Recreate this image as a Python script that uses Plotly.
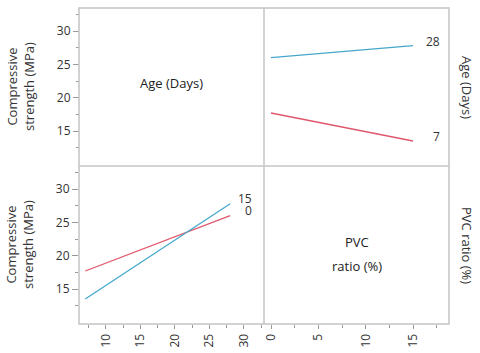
import plotly.graph_objects as go

# ---- data ----
age_days = [7, 28]
pvc_ratio = [0, 15]
# mean compressive strength (MPa) at [age 7, age 28] for each PVC ratio
strength_pvc0 = [17.7, 26.0]
strength_pvc15 = [13.5, 27.8]
# mean compressive strength (MPa) at [PVC 0, PVC 15] for each age
strength_age7 = [17.7, 13.5]
strength_age28 = [26.0, 27.8]

y_ticks = [15, 20, 25, 30]
y_minor = [12.5, 17.5, 22.5, 27.5, 32.5]
age_ticks = [10, 15, 20, 25, 30]
age_minor = [7.5, 12.5, 17.5, 22.5, 27.5, 32.5]
pvc_ticks = [0, 5, 10, 15]
pvc_minor = [2.5, 7.5, 12.5, 17.5]

BLUE = "#45A8CB"
RED = "#E0576C"
GRID = "#C4C4C4"
TXT = "#333333"
FONT = "Open Sans"

W, H = 480, 353
X0, XM, X1 = 79 / W, 264 / W, 449 / W
YT, YM, YB = 1 - 8 / H, 1 - 166 / H, 1 - 324 / H

fig = go.Figure()

# bottom-left: strength vs age, one line per PVC ratio
fig.add_trace(go.Scatter(x=age_days, y=strength_pvc0, mode="lines",
                         line=dict(color=RED, width=1.3), xaxis="x", yaxis="y"))
fig.add_trace(go.Scatter(x=age_days, y=strength_pvc15, mode="lines",
                         line=dict(color=BLUE, width=1.3), xaxis="x", yaxis="y"))
# top-right: strength vs PVC ratio, one line per age
fig.add_trace(go.Scatter(x=pvc_ratio, y=strength_age7, mode="lines",
                         line=dict(color=RED, width=1.3), xaxis="x3", yaxis="y3"))
fig.add_trace(go.Scatter(x=pvc_ratio, y=strength_age28, mode="lines",
                         line=dict(color=BLUE, width=1.3), xaxis="x3", yaxis="y3"))
# bottom-right panel (PVC axis only, no marks)
fig.add_trace(go.Scatter(x=pvc_ratio, y=[None, None], mode="lines",
                         hoverinfo="skip", xaxis="x2", yaxis="y2"))

yrange = [9.75, 33.45]
tickfont = dict(family=FONT, size=12, color=TXT)

common_y = dict(range=yrange, showgrid=False, zeroline=False, showline=False,
                automargin=False,
                tickvals=y_ticks, ticks="outside", ticklen=6, tickwidth=1,
                tickcolor="#999999", tickfont=tickfont,
                minor=dict(tickvals=y_minor, ticks="outside", ticklen=3,
                           tickcolor="#999999"))

fig.update_layout(
    width=W, height=H,
    margin=dict(l=0, r=0, t=0, b=0, autoexpand=False),
    paper_bgcolor="white", plot_bgcolor="white",
    showlegend=False,
    font=dict(family=FONT, size=12, color=TXT),
    xaxis=dict(domain=[X0, XM], anchor="y", range=[6.1, 32.9], showgrid=False,
               automargin=False,
               zeroline=False, showline=False, tickvals=age_ticks, ticks="outside",
               ticklen=4, tickcolor="#999999", tickangle=-90, tickfont=tickfont,
               minor=dict(tickvals=age_minor, ticks="outside", ticklen=3,
                          tickcolor="#999999")),
    yaxis=dict(domain=[YB, YM], anchor="x", **common_y),
    xaxis2=dict(domain=[XM, X1], anchor="y2", range=[-0.74, 18.8], showgrid=False,
                automargin=False,
                zeroline=False, showline=False, tickvals=pvc_ticks, ticks="outside",
                ticklen=4, tickcolor="#999999", tickangle=-90, tickfont=tickfont,
                minor=dict(tickvals=pvc_minor, ticks="outside", ticklen=3,
                           tickcolor="#999999")),
    yaxis2=dict(domain=[YB, YM], anchor="x2", range=yrange, visible=False,
                automargin=False),
    xaxis3=dict(domain=[XM, X1], anchor="y3", range=[-0.74, 18.8], visible=False,
                automargin=False),
    yaxis3=dict(domain=[YM, YT], anchor="free", position=X0, **common_y),
)

# panel frame lines
line_style = dict(color=GRID, width=1.5)
fig.add_shape(type="rect", xref="paper", yref="paper", x0=X0, x1=X1, y0=YB, y1=YT,
              line=line_style, layer="above")
fig.add_shape(type="line", xref="paper", yref="paper", x0=XM, x1=XM, y0=YB, y1=YT,
              line=line_style, layer="above")
fig.add_shape(type="line", xref="paper", yref="paper", x0=X0, x1=X1, y0=YM, y1=YM,
              line=line_style, layer="above")

def note(x, y, text, angle=0, size=13, color=TXT):
    fig.add_annotation(xref="paper", yref="paper", x=x, y=y, text=text,
                       textangle=angle, showarrow=False,
                       xanchor="center", yanchor="middle",
                       font=dict(family=FONT, size=size, color=color))

# y-axis titles (one per row)
for yc in [(YM + YT) / 2, (YB + YM) / 2]:
    note(20 / W, yc, "Compressive<br>strength (MPa)", angle=-90)

# diagonal panel labels
note((X0 + XM) / 2, 1 - 83 / H, "Age (Days)", color="#222222")
note((XM + X1) / 2, 1 - 242 / H, "PVC", color="#222222")
note((XM + X1) / 2, 1 - 266 / H, "ratio (%)", color="#222222")

# right-side row labels
note(467 / W, (YM + YT) / 2, "Age (Days)", angle=90)
note(467 / W, (YB + YM) / 2, "PVC ratio (%)", angle=90)

# line end labels
for lab, yv in [("28", strength_age28[-1]), ("7", strength_age7[-1])]:
    fig.add_annotation(xref="x3", yref="y3", x=pvc_ratio[-1], y=yv, text=lab,
                       showarrow=False, xanchor="right", yanchor="middle",
                       xshift=29, yshift=4, font=dict(family=FONT, size=12, color=TXT))
for lab, yv in [("15", strength_pvc15[-1]), ("0", strength_pvc0[-1])]:
    fig.add_annotation(xref="x", yref="y", x=age_days[-1], y=yv, text=lab,
                       showarrow=False, xanchor="right", yanchor="middle",
                       xshift=24, yshift=5, font=dict(family=FONT, size=12, color=TXT))

fig.write_html("out.html",
               config={"displayModeBar": False},
               post_script="document.body.style.margin='0px';"
                           "document.body.style.overflow='hidden';")
